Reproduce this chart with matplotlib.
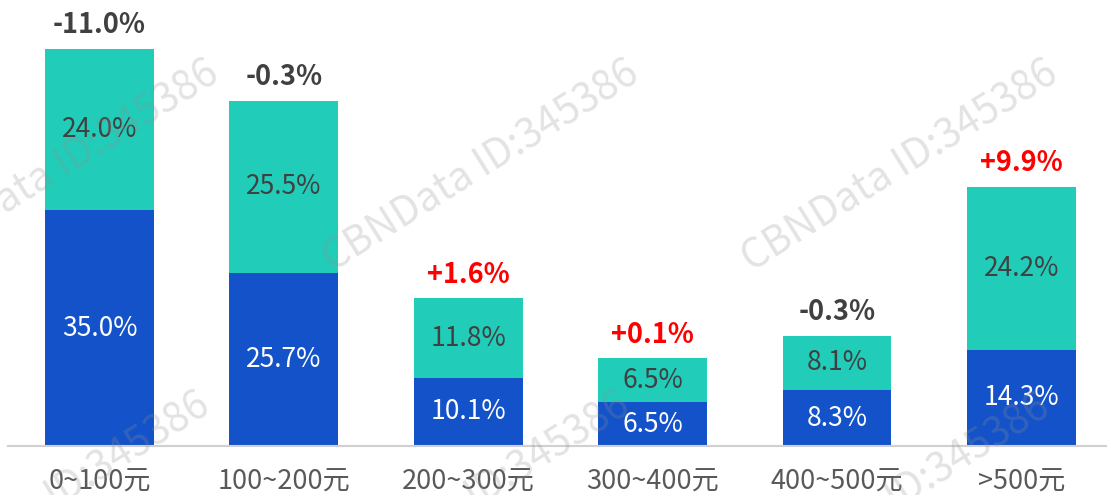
import matplotlib
matplotlib.use('Agg')
import matplotlib.pyplot as plt

plt.rcParams['font.family'] = ['Noto Sans CJK SC', 'DejaVu Sans']

categories = ['0~100元', '100~200元', '200~300元', '300~400元', '400~500元', '>500元']
lower = [35.0, 25.7, 10.1, 6.5, 8.3, 14.3]
upper = [24.0, 25.5, 11.8, 6.5, 8.1, 24.2]
change = ['-11.0%', '-0.3%', '+1.6%', '+0.1%', '-0.3%', '+9.9%']

BLUE = '#1352C8'
TEAL = '#21CCB8'

fig = plt.figure(figsize=(11.07, 4.95), dpi=100)
ax = fig.add_axes([8/1107, 49/495, 1 - 8/1107, 446/495])

x = list(range(len(categories)))
ax.bar(x, lower, width=0.59, color=BLUE, zorder=2)
ax.bar(x, upper, bottom=lower, width=0.59, color=TEAL, zorder=2)

for i in x:
    ax.text(i, lower[i] / 2, f'{lower[i]:.1f}%', ha='center', va='center',
            color='white', fontsize=19, zorder=3)
    ax.text(i, lower[i] + upper[i] / 2, f'{upper[i]:.1f}%', ha='center', va='center',
            color='#404040', fontsize=19, zorder=3)
    col = '#FF0000' if change[i].startswith('+') else '#404040'
    ax.annotate(change[i], (i, lower[i] + upper[i]), xytext=(0, 7),
                textcoords='offset points', ha='center', va='bottom',
                color=col, fontsize=19.5, fontweight='bold', zorder=3)

ax.set_xlim(-0.496, 5.464)
ax.set_ylim(0, 66.2)
ax.set_xticks(x)
ax.set_xticklabels(categories, fontsize=19.5, color='#595959')
ax.tick_params(axis='x', length=0, pad=16)
ax.set_yticks([])
for s in ['top', 'right', 'left']:
    ax.spines[s].set_visible(False)
ax.spines['bottom'].set_color('#D0D0D0')
ax.spines['bottom'].set_linewidth(1.5)

# watermarks
marks = [(61, 166), (481, 166), (900, 166), (52, 498), (472, 498), (892, 500)]
for px, py in marks:
    fig.text(px / 1107, 1 - py / 495, 'CBNData ID:345386', rotation=32,
             ha='center', va='center', fontsize=29, color='#909090',
             alpha=0.25, zorder=10, rotation_mode='anchor')

fig.savefig('out.png', dpi=100)
